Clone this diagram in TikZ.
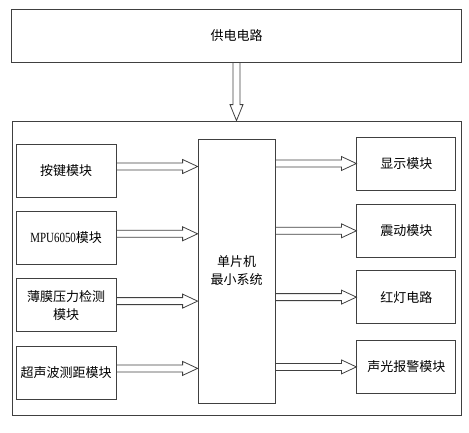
\documentclass[tikz,border=0pt]{standalone}
\usepackage{fontspec}
\setmainfont{Noto Sans CJK SC}
\newfontfamily\latinfont[FakeStretch=0.78]{Liberation Serif}
\newcommand{\lat}[1]{{\latinfont\fontsize{14pt}{18pt}\selectfont #1}}
\usetikzlibrary{positioning, calc}
\tikzset{
	block/.style={draw=black!75, line width=0.8pt, rectangle, inner sep=2pt, align=center, font=\fontsize{13pt}{18pt}\selectfont},
	module/.style={block, minimum width=100pt, minimum height=53pt},
	% hollow arrows, horizontal and downward
	harrow/.style={draw=black!75, line width=0.8pt, to path={let \p1=(\tikztostart), \p2=(\tikztotarget) in
		(\x1,\y1+3.5pt) -- (\x2-15pt,\y1+3.5pt) -- (\x2-15pt,\y1+7pt) -- (\x2,\y1) -- (\x2-15pt,\y1-7pt) -- (\x2-15pt,\y1-3.5pt) -- (\x1,\y1-3.5pt)}},
	varrow/.style={draw=black!75, line width=0.8pt, to path={let \p1=(\tikztostart), \p2=(\tikztotarget) in
		(\x1+3.5pt,\y1) -- (\x1+3.5pt,\y2+16pt) -- (\x1+6.5pt,\y2+16pt) -- (\x1,\y2) -- (\x1-6.5pt,\y2+16pt) -- (\x1-3.5pt,\y2+16pt) -- (\x1-3.5pt,\y1)}},
}

\begin{document}
\begin{tikzpicture}
	\useasboundingbox (0,0) rectangle (469pt,-432pt);
	
	\node (power) [block, minimum width=450pt, minimum height=53pt] at (236.5pt,-35.5pt) {供电电路};
	\node (frame) [block, minimum width=449pt, minimum height=294pt] at (236.5pt,-268pt) {};
	\node (mcu) [block, minimum width=77pt, minimum height=264pt] at (236.5pt,-271pt) {单片机\\最小系统};
	
	% inputs
	\node (key) [module, anchor=north east] at ([xshift=-81pt, yshift=-5pt]mcu.north west) {按键模块};
	\node (mpu) [module, below=13.5pt of key] {\lat{MPU6050}模块};
	\node (film) [module, below=13.5pt of mpu] {薄膜压力检测\\模块};
	\node (sonic) [module, below=13.5pt of film] {超声波测距模块};
	
	% outputs
	\node (disp) [module, minimum width=99pt, anchor=north west] at ([xshift=81pt, yshift=2pt]mcu.north east) {显示模块};
	\node (vib) [module, minimum width=99pt, below=13.5pt of disp] {震动模块};
	\node (red) [module, minimum width=99pt, below=12.5pt of vib] {红灯电路};
	\node (alarm) [module, minimum width=99pt, below=16pt of red] {声光报警模块};
	
	\draw [varrow] (power.south) to (frame.north);
	
	\begin{scope}[harrow]
		\draw ([yshift=4pt]key.east) to (mcu.west);
		\draw ([yshift=4pt]mpu.east) to (mcu.west);
		\draw ([yshift=4pt]film.east) to (mcu.west);
		\draw ([yshift=4pt]sonic.east) to (mcu.west);
		
		\draw (mcu.east |- disp.west) to (disp.west);
		\draw (mcu.east |- vib.west) to (vib.west);
		\draw (mcu.east |- red.west) to (red.west);
		\draw (mcu.east |- alarm.west) to (alarm.west);
	\end{scope}
\end{tikzpicture}
\end{document}
